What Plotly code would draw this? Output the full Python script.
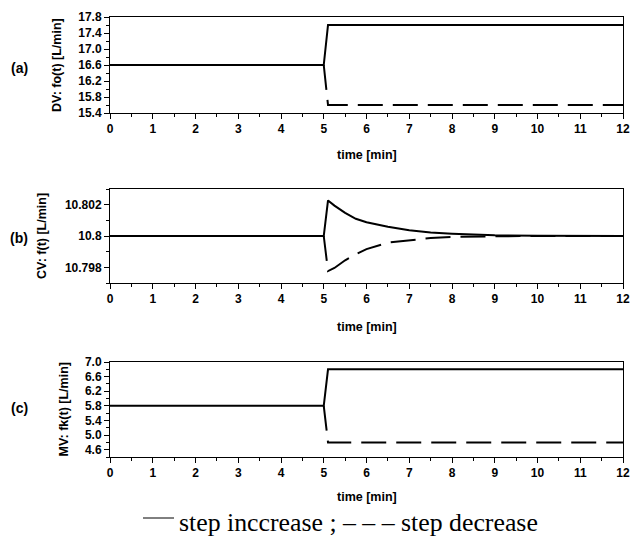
import plotly.graph_objects as go
from plotly.subplots import make_subplots

# ---- data ----
time_step = [0, 5, 5.1, 12]
dv_increase = [16.6, 16.6, 17.6, 17.6]
dv_decrease = [16.6, 16.6, 15.6, 15.6]

time_cv = [0, 5, 5.1, 5.25, 5.5, 5.75, 6, 6.5, 7, 7.5, 8, 8.5, 9, 10, 11, 12]
cv_increase = [10.8, 10.8, 10.80227, 10.80194, 10.80148, 10.8011, 10.80088, 10.80059,
               10.80036, 10.80023, 10.80015, 10.80009, 10.80005, 10.80001, 10.8, 10.8]
cv_decrease = [10.8, 10.8, 10.79776, 10.79796, 10.79845, 10.79884, 10.79916, 10.79958,
               10.79973, 10.79987, 10.79994, 10.79997, 10.79998, 10.8, 10.8, 10.8]

mv_increase = [5.8, 5.8, 6.8, 6.8]
mv_decrease = [5.8, 5.8, 4.8, 4.8]

x_ticks = list(range(0, 13))
dv_ticks = [15.4, 15.8, 16.2, 16.6, 17.0, 17.4, 17.8]
cv_ticks = [10.798, 10.8, 10.802]
cv_ticktext = ["10.798", "10.8", "10.802"]
mv_ticks = [4.6, 5.0, 5.4, 5.8, 6.2, 6.6, 7.0]

panel_labels = ["(a)", "(b)", "(c)"]
y_titles = ["DV: fo(t) [L/min]", "CV: f(t) [L/min]", "MV: fk(t) [L/min]"]
x_title = "time [min]"
legend_text = "step inccrease ; – – – step decrease"

# ---- figure ----
W, H = 631, 540
L, R = 110, 8
fig = make_subplots(rows=3, cols=1)

def py(p):
    return 1 - p / H

def px(p):
    return (p - L) / (W - L - R)

domains = [(113, 17), (283, 189), (457, 362)]
series = [
    (time_step, dv_increase, dv_decrease),
    (time_cv, cv_increase, cv_decrease),
    (time_step, mv_increase, mv_decrease),
]
dash = "25px,10px"
for i, (t, inc, dec) in enumerate(series):
    r = i + 1
    k = t.index(5)
    fig.add_trace(go.Scatter(x=t, y=inc, mode="lines",
                             line=dict(color="black", width=2), showlegend=False), row=r, col=1)
    fig.add_trace(go.Scatter(x=t[k:], y=dec[k:], mode="lines",
                             line=dict(color="black", width=2, dash=dash), showlegend=False), row=r, col=1)

tickfont = dict(family="Liberation Sans, Arial", size=12, color="black", weight="bold")
for i in range(3):
    r = i + 1
    fig.update_xaxes(row=r, col=1, range=[0, 12], tickvals=x_ticks, ticks="outside",
                     ticklen=5, tickwidth=1, tickcolor="black",
                     minor=dict(dtick=0.5, tick0=0, ticks="outside", ticklen=3, tickcolor="black"),
                     showline=True, linecolor="black", linewidth=1, mirror=True,
                     showgrid=False, zeroline=False, tickfont=tickfont, automargin=False)
    b, t = domains[i]
    fig.update_yaxes(row=r, col=1, domain=[py(b), py(t)], ticks="outside", ticklen=5,
                     tickcolor="black", showline=True, linecolor="black", linewidth=1,
                     mirror=True, showgrid=False, zeroline=False, tickfont=tickfont,
                     automargin=False)

fig.update_yaxes(row=1, col=1, range=[15.4, 17.8], tickvals=dv_ticks,
                 ticktext=[f"{v:.1f}" for v in dv_ticks],
                 minor=dict(dtick=0.2, tick0=15.4, ticks="outside", ticklen=3, tickcolor="black"))
fig.update_yaxes(row=2, col=1, range=[10.797, 10.803], tickvals=cv_ticks, ticktext=cv_ticktext,
                 minor=dict(dtick=0.001, tick0=10.797, ticks="outside", ticklen=3, tickcolor="black"))
fig.update_yaxes(row=3, col=1, range=[4.4, 7.0], tickvals=mv_ticks,
                 ticktext=[f"{v:.1f}" for v in mv_ticks],
                 minor=dict(dtick=0.2, tick0=4.4, ticks="outside", ticklen=3, tickcolor="black"))

bold = dict(family="Liberation Sans, Arial", color="black", weight="bold")
ann = []
title_x = [57, 42, 63]
label_y = [68, 238, 408]
xt_y = [155, 327, 497]
for i in range(3):
    b, t = domains[i]
    ann.append(dict(text=y_titles[i], x=px(title_x[i]), y=py((b + t) / 2), xref="paper", yref="paper",
                    textangle=-90, showarrow=False, xanchor="center", yanchor="middle",
                    font=dict(size=12.5, **bold)))
    ann.append(dict(text=panel_labels[i], x=px(19), y=py(label_y[i]), xref="paper", yref="paper",
                    showarrow=False, xanchor="center", yanchor="middle", font=dict(size=14, **bold)))
    ann.append(dict(text=x_title, x=px(367), y=py(xt_y[i]), xref="paper", yref="paper",
                    showarrow=False, xanchor="center", yanchor="middle", font=dict(size=12.5, **bold)))
ann.append(dict(text=legend_text, x=px(177), y=py(522), xref="paper", yref="paper",
                showarrow=False, xanchor="left", yanchor="middle",
                font=dict(family="Liberation Serif, Times New Roman", size=25.8, color="black")))
fig.update_layout(annotations=ann)
fig.add_shape(type="line", xref="paper", yref="paper", x0=px(143), x1=px(174),
              y0=py(518), y1=py(518), line=dict(color="black", width=1))

fig.update_layout(width=W, height=H, margin=dict(l=L, r=R, t=0, b=0),
                  plot_bgcolor="white", paper_bgcolor="white")
fig.write_html("out.html", config={"displayModeBar": False},
               post_script="document.body.style.margin='0';document.body.style.overflow='hidden';")
